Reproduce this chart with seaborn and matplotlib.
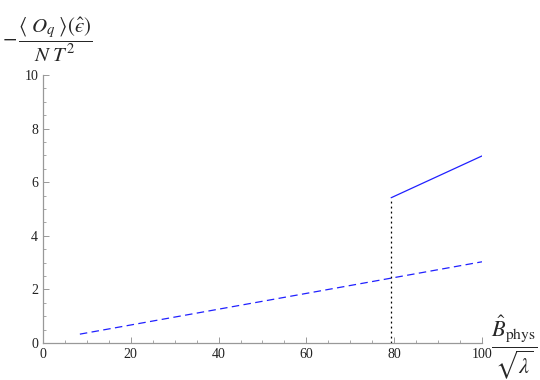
import numpy as np
import pandas as pd
import matplotlib
matplotlib.use('Agg')
import matplotlib.pyplot as plt
import seaborn as sns
from matplotlib.ticker import MultipleLocator

# data
dashed_x = [8.4, 100]
dashed_y = [0.33, 3.03]
solid_x = [79.3, 100]
solid_y = [5.42, 6.98]
jump_x = [79.3, 79.3]
jump_y = [0, 5.42]

sns.set_style('white')
plt.rcParams['font.family'] = ['Liberation Serif', 'DejaVu Serif']
plt.rcParams['mathtext.fontset'] = 'stix'

fig = plt.figure(figsize=(5.4, 3.8), dpi=100)
ax = fig.add_axes([0.0796, 0.0974, 0.813, 0.7052])

dashed = pd.DataFrame({'x': dashed_x, 'y': dashed_y})
solid = pd.DataFrame({'x': solid_x, 'y': solid_y})
jump = pd.DataFrame({'x': jump_x, 'y': jump_y})

sns.lineplot(data=dashed, x='x', y='y', ax=ax, color='#2020ff', lw=0.9,
             linestyle=(0, (6, 3.5)), estimator=None)
sns.lineplot(data=solid, x='x', y='y', ax=ax, color='#2020ff', lw=0.9,
             estimator=None)
# vertical jump: no aggregation, keep both points
sns.lineplot(data=jump, x='x', y='y', ax=ax, color='black', lw=0.9,
             linestyle=(0, (1.5, 2.5)), estimator=None, sort=False)

ax.set_xlim(0, 100)
ax.set_ylim(0, 10)
ax.set_xlabel('')
ax.set_ylabel('')
ax.xaxis.set_major_locator(MultipleLocator(20))
ax.xaxis.set_minor_locator(MultipleLocator(5))
ax.yaxis.set_major_locator(MultipleLocator(2))
ax.yaxis.set_minor_locator(MultipleLocator(0.5))

for s in ['top', 'right']:
    ax.spines[s].set_visible(False)
for s in ['left', 'bottom']:
    ax.spines[s].set_color('#999999')
    ax.spines[s].set_linewidth(0.9)

ax.tick_params(which='both', direction='in', color='#999999', labelsize=10,
               labelcolor='#222222', bottom=True, left=True)
ax.tick_params(which='major', length=4.5, width=0.7)
ax.tick_params(which='minor', length=2.5, width=0.6)

fig.text(0.003, 0.895,
         '$-\\,\\dfrac{\\langle\\; O_q\\;\\rangle(\\hat{\u03f5})}{N\\;T^2}$',
         fontsize=15, ha='left', va='center')
fig.text(0.91, 0.085,
         r'$\dfrac{\hat{B}_{\rm phys}}{\sqrt{\lambda}}$',
         fontsize=16, ha='left', va='center')

fig.savefig('out.png', dpi=100)
